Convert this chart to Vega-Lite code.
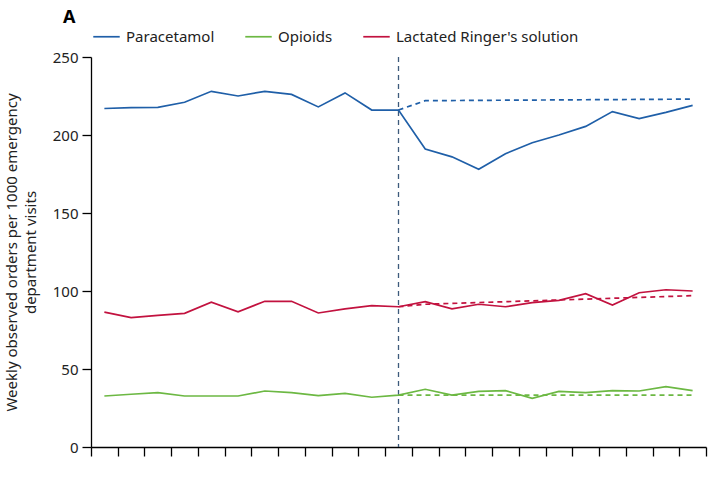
{
  "$schema": "https://vega.github.io/schema/vega-lite/v6.json",
  "description": "Weekly observed orders per 1000 emergency department visits, with dashed expected trends after the intervention week.",
  "width": 615,
  "height": 390,
  "autosize": {"type": "none"},
  "padding": {"left": 91, "top": 57, "right": 12, "bottom": 34},
  "config": {
    "font": "Noto Sans",
    "view": {"stroke": null},
    "axis": {"domainColor": "#000", "tickColor": "#000", "labelColor": "#222", "titleColor": "#222", "grid": false}
  },
  "title": {
    "text": "A",
    "anchor": "start",
    "frame": "group",
    "fontSize": 18,
    "fontWeight": "bold",
    "color": "#000",
    "dx": -28,
    "dy": 13,
    "offset": 8
  },
  "datasets": {
    "observed": [
      {"week": 1, "series": "Paracetamol", "value": 217},
      {"week": 2, "series": "Paracetamol", "value": 217.5},
      {"week": 3, "series": "Paracetamol", "value": 217.7},
      {"week": 4, "series": "Paracetamol", "value": 221},
      {"week": 5, "series": "Paracetamol", "value": 228},
      {"week": 6, "series": "Paracetamol", "value": 225},
      {"week": 7, "series": "Paracetamol", "value": 228},
      {"week": 8, "series": "Paracetamol", "value": 226},
      {"week": 9, "series": "Paracetamol", "value": 218},
      {"week": 10, "series": "Paracetamol", "value": 227},
      {"week": 11, "series": "Paracetamol", "value": 216},
      {"week": 12, "series": "Paracetamol", "value": 216},
      {"week": 13, "series": "Paracetamol", "value": 191},
      {"week": 14, "series": "Paracetamol", "value": 186},
      {"week": 15, "series": "Paracetamol", "value": 178},
      {"week": 16, "series": "Paracetamol", "value": 188},
      {"week": 17, "series": "Paracetamol", "value": 195},
      {"week": 18, "series": "Paracetamol", "value": 200},
      {"week": 19, "series": "Paracetamol", "value": 205.5},
      {"week": 20, "series": "Paracetamol", "value": 215},
      {"week": 21, "series": "Paracetamol", "value": 210.5},
      {"week": 22, "series": "Paracetamol", "value": 214.5},
      {"week": 23, "series": "Paracetamol", "value": 219},
      {"week": 1, "series": "Lactated Ringer's solution", "value": 86.5},
      {"week": 2, "series": "Lactated Ringer's solution", "value": 82.9},
      {"week": 3, "series": "Lactated Ringer's solution", "value": 84.4},
      {"week": 4, "series": "Lactated Ringer's solution", "value": 85.7},
      {"week": 5, "series": "Lactated Ringer's solution", "value": 92.8},
      {"week": 6, "series": "Lactated Ringer's solution", "value": 86.7},
      {"week": 7, "series": "Lactated Ringer's solution", "value": 93.4},
      {"week": 8, "series": "Lactated Ringer's solution", "value": 93.4},
      {"week": 9, "series": "Lactated Ringer's solution", "value": 85.9},
      {"week": 10, "series": "Lactated Ringer's solution", "value": 88.5},
      {"week": 11, "series": "Lactated Ringer's solution", "value": 90.6},
      {"week": 12, "series": "Lactated Ringer's solution", "value": 89.9},
      {"week": 13, "series": "Lactated Ringer's solution", "value": 93.2},
      {"week": 14, "series": "Lactated Ringer's solution", "value": 88.5},
      {"week": 15, "series": "Lactated Ringer's solution", "value": 91.5},
      {"week": 16, "series": "Lactated Ringer's solution", "value": 89.9},
      {"week": 17, "series": "Lactated Ringer's solution", "value": 92.5},
      {"week": 18, "series": "Lactated Ringer's solution", "value": 94},
      {"week": 19, "series": "Lactated Ringer's solution", "value": 98.3},
      {"week": 20, "series": "Lactated Ringer's solution", "value": 91},
      {"week": 21, "series": "Lactated Ringer's solution", "value": 98.9},
      {"week": 22, "series": "Lactated Ringer's solution", "value": 100.8},
      {"week": 23, "series": "Lactated Ringer's solution", "value": 100},
      {"week": 1, "series": "Opioids", "value": 32.7},
      {"week": 2, "series": "Opioids", "value": 33.8},
      {"week": 3, "series": "Opioids", "value": 34.8},
      {"week": 4, "series": "Opioids", "value": 32.7},
      {"week": 5, "series": "Opioids", "value": 32.7},
      {"week": 6, "series": "Opioids", "value": 32.7},
      {"week": 7, "series": "Opioids", "value": 35.9},
      {"week": 8, "series": "Opioids", "value": 34.8},
      {"week": 9, "series": "Opioids", "value": 32.9},
      {"week": 10, "series": "Opioids", "value": 34.4},
      {"week": 11, "series": "Opioids", "value": 31.9},
      {"week": 12, "series": "Opioids", "value": 33.3},
      {"week": 13, "series": "Opioids", "value": 37},
      {"week": 14, "series": "Opioids", "value": 33.3},
      {"week": 15, "series": "Opioids", "value": 35.7},
      {"week": 16, "series": "Opioids", "value": 36.1},
      {"week": 17, "series": "Opioids", "value": 31.2},
      {"week": 18, "series": "Opioids", "value": 35.7},
      {"week": 19, "series": "Opioids", "value": 34.8},
      {"week": 20, "series": "Opioids", "value": 36.1},
      {"week": 21, "series": "Opioids", "value": 35.9},
      {"week": 22, "series": "Opioids", "value": 38.7},
      {"week": 23, "series": "Opioids", "value": 36.1}
    ],
    "expected": [
      {"week": 12, "series": "Paracetamol", "value": 216},
      {"week": 13, "series": "Paracetamol", "value": 222},
      {"week": 23, "series": "Paracetamol", "value": 223},
      {"week": 12, "series": "Lactated Ringer's solution", "value": 89.9},
      {"week": 13, "series": "Lactated Ringer's solution", "value": 91.5},
      {"week": 23, "series": "Lactated Ringer's solution", "value": 97},
      {"week": 12, "series": "Opioids", "value": 33.3},
      {"week": 23, "series": "Opioids", "value": 33.3}
    ],
    "intervention": [{"week": 12}]
  },
  "layer": [
    {
      "data": {"name": "intervention"},
      "mark": {"type": "rule", "color": "#3d5a7c", "strokeWidth": 1.3, "strokeDash": [5, 4]},
      "encoding": {
        "x": {"field": "week", "type": "ordinal"}
      }
    },
    {
      "data": {"name": "observed"},
      "mark": {"type": "line", "strokeWidth": 1.7},
      "encoding": {
        "x": {
          "field": "week",
          "type": "ordinal",
          "scale": {"domain": [1, 2, 3, 4, 5, 6, 7, 8, 9, 10, 11, 12, 13, 14, 15, 16, 17, 18, 19, 20, 21, 22, 23], "paddingInner": 0, "paddingOuter": 0},
          "axis": {"labels": false, "title": null, "tickBand": "extent", "tickSize": 9, "tickWidth": 1.3, "domainWidth": 1.3}
        },
        "y": {
          "field": "value",
          "type": "quantitative",
          "scale": {"domain": [0, 250], "nice": false},
          "axis": {
            "values": [0, 50, 100, 150, 200, 250],
            "title": ["Weekly observed orders per 1000 emergency", "department visits"],
            "titleFontSize": 15,
            "titleFontWeight": "normal",
            "titleLineHeight": 19,
            "titlePadding": 14,
            "labelFontSize": 15,
            "labelPadding": 4,
            "tickSize": 9,
            "tickWidth": 1.3,
            "domainWidth": 1.3
          }
        },
        "color": {
          "field": "series",
          "type": "nominal",
          "scale": {
            "domain": ["Paracetamol", "Opioids", "Lactated Ringer's solution"],
            "range": ["#1f5fa8", "#6cb843", "#c2123f"]
          },
          "legend": {
            "title": null,
            "orient": "none",
            "direction": "horizontal",
            "legendX": 1,
            "legendY": -35,
            "symbolType": "stroke",
            "symbolSize": 700,
            "symbolStrokeWidth": 1.7,
            "labelFontSize": 15,
            "labelColor": "#222",
            "labelOffset": 5,
            "labelLimit": 400,
            "columnPadding": 26
          }
        }
      }
    },
    {
      "data": {"name": "expected"},
      "mark": {"type": "line", "strokeWidth": 1.7, "strokeDash": [5, 4]},
      "encoding": {
        "x": {"field": "week", "type": "ordinal"},
        "y": {"field": "value", "type": "quantitative"},
        "color": {"field": "series", "type": "nominal"}
      }
    }
  ]
}
